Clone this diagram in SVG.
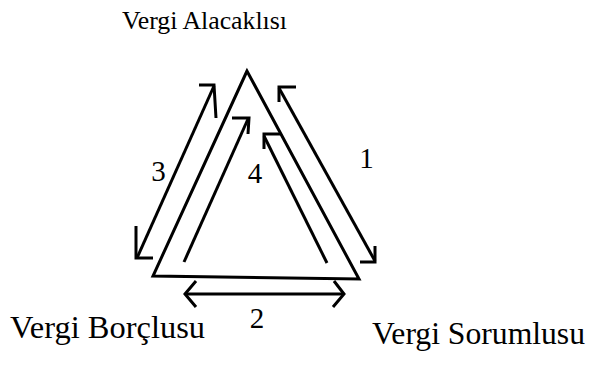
<svg xmlns="http://www.w3.org/2000/svg" width="591" height="369" viewBox="0 0 591 369">
<style>
.ln{fill:none;stroke:#000;stroke-width:3;stroke-linecap:butt;stroke-linejoin:miter}
.lbl{font-family:"Liberation Serif","Times New Roman",serif;fill:#000}
.num{font-family:"Liberation Serif","Times New Roman",serif;fill:#000;font-size:29px;text-anchor:middle}
</style>
<rect width="591" height="369" fill="#fff"/>
<g id="triangle">
<polygon class="ln" points="247,71 153,276 359,279"/>
</g>
<g id="n-alacakli"><text class="lbl" x="122" y="29" font-size="26" textLength="165" lengthAdjust="spacingAndGlyphs">Vergi Alacaklısı</text></g>
<g id="n-borclu"><text class="lbl" x="10" y="338" font-size="32" textLength="195" lengthAdjust="spacingAndGlyphs">Vergi Borçlusu</text></g>
<g id="n-sorumlu"><text class="lbl" x="372" y="344" font-size="31.5" textLength="213" lengthAdjust="spacingAndGlyphs">Vergi Sorumlusu</text></g>
<g id="connectors">
<!-- 3 -->
<path class="ln" d="M137,258 L214,86"/>
<path class="ln" d="M199,85 L214,85 L216,118"/>
<path class="ln" d="M136,226 L136,258 L153,258"/>
<!-- 4 -->
<path class="ln" d="M184,262 L248,119"/>
<path class="ln" d="M232,118 L249,118 L248,134"/>
<!-- inner right -->
<path class="ln" d="M327,263 L264,136"/>
<path class="ln" d="M280,134 L264,134 L264,149"/>
<!-- 1 -->
<path class="ln" d="M279,88 L375,261"/>
<path class="ln" d="M296,87 L279,87 L279,102"/>
<path class="ln" d="M375,246 L375,262 L360,262"/>
<!-- 2 -->
<path class="ln" d="M185,294 L343,294"/>
<path class="ln" d="M196,281 L185,294 L196,307"/>
<path class="ln" d="M334,281 L344,294 L333,307"/>
</g>
<g id="labels">
<text class="num" x="158.5" y="181">3</text>
<text class="num" x="255" y="183">4</text>
<text class="num" x="366.5" y="168">1</text>
<text class="num" x="257" y="328">2</text>
</g>
</svg>
